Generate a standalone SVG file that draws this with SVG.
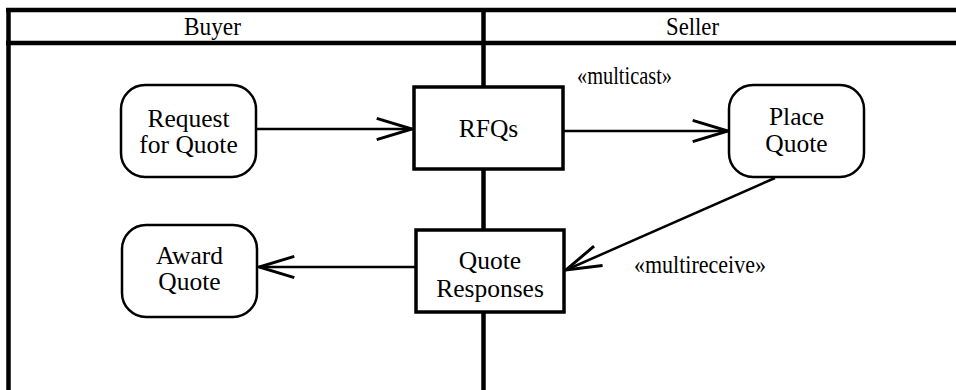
<svg xmlns="http://www.w3.org/2000/svg" width="956" height="390" viewBox="0 0 956 390">
<style>
  text { font-family: "Liberation Serif", "Times New Roman", serif; font-size: 25.5px; fill: #000; text-anchor: middle; }
  .lane { stroke: #000; stroke-width: 4.5; fill: none; }
  .head { font-size: 25px; }
  .action { fill: #fff; stroke: #000; stroke-width: 2.5; }
  .obj { fill: #fff; stroke: #000; stroke-width: 3.5; }
  .flow { stroke: #000; stroke-width: 2.5; fill: none; marker-end: url(#open); }
  .lbl { text-anchor: start; font-size: 25px; }
</style>
<defs>
  <marker id="open" markerUnits="userSpaceOnUse" markerWidth="40" markerHeight="30" refX="0" refY="0" viewBox="-32 -12 34 24" orient="auto" overflow="visible">
    <path d="M-30,-9 L0,0 L-30,9" fill="none" stroke="#000" stroke-width="2.5"/>
  </marker>
</defs>
<rect x="0" y="0" width="956" height="390" fill="#fff"/>
<g id="swimlanes">
  <line class="lane" x1="6" y1="10" x2="956" y2="10"/>
  <line class="lane" x1="6" y1="43" x2="956" y2="43"/>
  <line class="lane" x1="8.5" y1="8" x2="8.5" y2="390"/>
  <line class="lane" x1="483.5" y1="8" x2="483.5" y2="390"/>
  <text class="head" x="184" y="35" style="text-anchor:start" textLength="57" lengthAdjust="spacingAndGlyphs">Buyer</text>
  <text class="head" x="666" y="35" style="text-anchor:start" textLength="53" lengthAdjust="spacingAndGlyphs">Seller</text>
</g>
<g id="connectors">
  <line class="flow" x1="257" y1="129" x2="412" y2="129"/>
  <line class="flow" x1="564" y1="131" x2="728" y2="131"/>
  <line class="flow" x1="775" y1="178" x2="566" y2="270"/>
  <line class="flow" x1="415" y1="267" x2="259" y2="267"/>
  <text class="lbl" x="577" y="84" textLength="95" lengthAdjust="spacingAndGlyphs">«multicast»</text>
  <text class="lbl" x="634" y="273" textLength="132" lengthAdjust="spacingAndGlyphs">«multireceive»</text>
</g>
<g id="request-for-quote">
  <rect class="action" x="121" y="85" width="135" height="92" rx="24" ry="24"/>
  <text x="188.5" y="127">Request</text>
  <text x="188.5" y="153">for Quote</text>
</g>
<g id="rfqs">
  <rect class="obj" x="414" y="87" width="149" height="82"/>
  <text x="488.5" y="137">RFQs</text>
</g>
<g id="place-quote">
  <rect class="action" x="729" y="85" width="135" height="92" rx="24" ry="24"/>
  <text x="796.5" y="125">Place</text>
  <text x="796.5" y="152">Quote</text>
</g>
<g id="quote-responses">
  <rect class="obj" x="416" y="230" width="148" height="82"/>
  <text x="490" y="269">Quote</text>
  <text x="490" y="297">Responses</text>
</g>
<g id="award-quote">
  <rect class="action" x="122" y="225" width="135" height="92" rx="24" ry="24"/>
  <text x="189.5" y="264">Award</text>
  <text x="189.5" y="290">Quote</text>
</g>
</svg>
